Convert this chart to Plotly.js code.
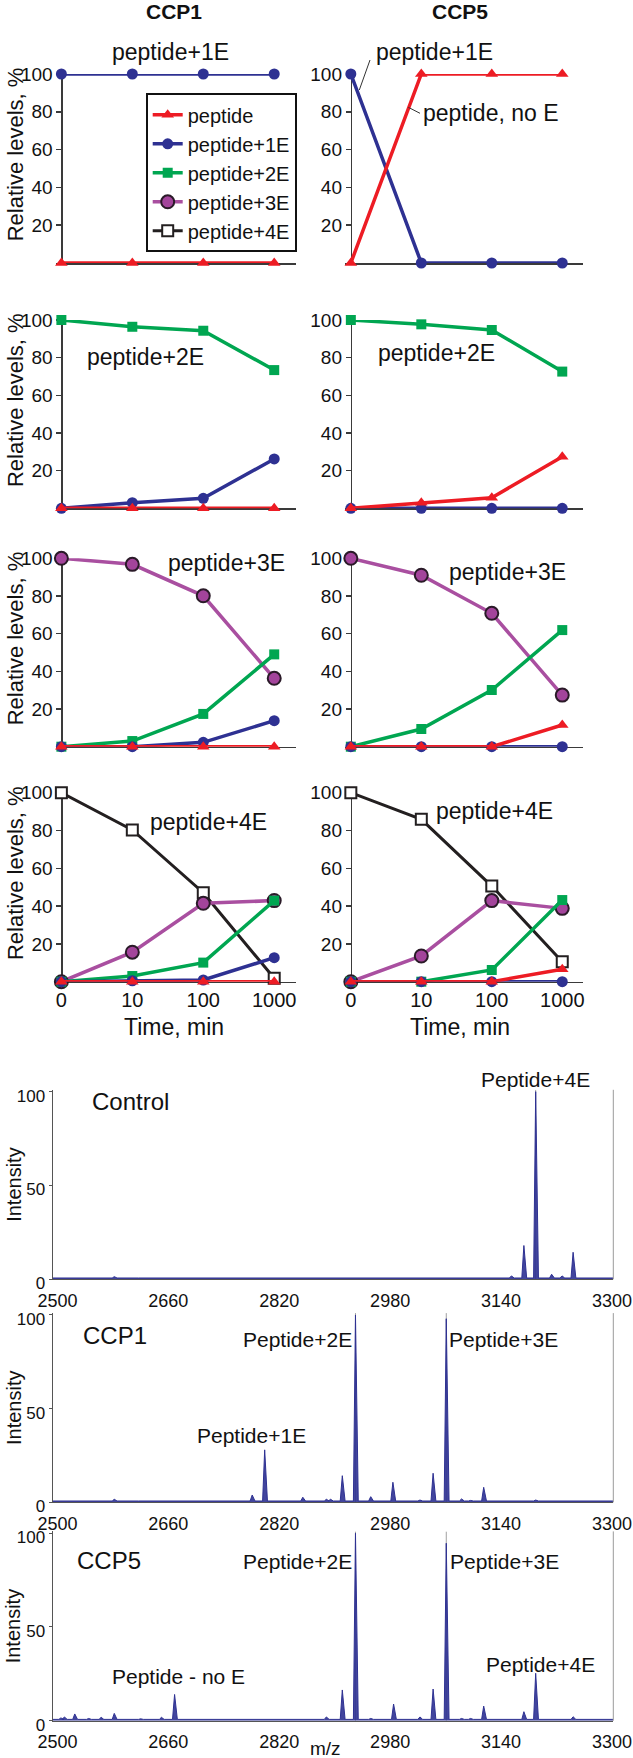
<!DOCTYPE html>
<html>
<head>
<meta charset="utf-8">
<script src="https://cdn.plot.ly/plotly-3.0.1.min.js"></script>
<style>html,body{margin:0;padding:0;background:#fff;}#chart{width:633px;height:1758px;}</style>
</head>
<body>
<div id="chart"></div>
<script>
// ---------------- DATA ----------------
const times = ['0', '10', '100', '1000'];
const seriesNames = ['peptide', 'peptide+1E', 'peptide+2E', 'peptide+3E', 'peptide+4E'];

// Row 1: substrate peptide+1E
const ccp1_s1_pep = [0, 0, 0, 0];
const ccp1_s1_e1  = [100, 100, 100, 100];
const ccp5_s1_pep = [0, 100, 100, 100];
const ccp5_s1_e1  = [100, 0, 0, 0];
// Row 2: substrate peptide+2E
const ccp1_s2_pep = [0, 0, 0, 0];
const ccp1_s2_e1  = [0, 3, 5.3, 26.2];
const ccp1_s2_e2  = [100, 96.4, 94.3, 73.4];
const ccp5_s2_pep = [0, 3, 5.6, 27.4];
const ccp5_s2_e1  = [0, 0, 0, 0];
const ccp5_s2_e2  = [100, 97.7, 94.7, 72.6];
// Row 3: substrate peptide+3E
const ccp1_s3_pep = [0, 0, 0, 0];
const ccp1_s3_e1  = [0, 0, 2.3, 13.8];
const ccp1_s3_e2  = [0, 3, 17.4, 49];
const ccp1_s3_e3  = [100, 96.8, 80.1, 36.3];
const ccp5_s3_pep = [0, 0, 0, 11.5];
const ccp5_s3_e1  = [0, 0, 0, 0];
const ccp5_s3_e2  = [0, 9.4, 30.1, 61.9];
const ccp5_s3_e3  = [100, 91, 70.8, 27.4];
// Row 4: substrate peptide+4E
const ccp1_s4_pep = [0, 0, 0, 0];
const ccp1_s4_e1  = [0, 0.5, 0.9, 12.7];
const ccp1_s4_e2  = [0, 3, 10.1, 42.9];
const ccp1_s4_e3  = [0, 15.6, 41.5, 42.9];
const ccp1_s4_e4  = [100, 80.3, 47.1, 1.8];
const ccp5_s4_pep = [0, 0, 0, 6.6];
const ccp5_s4_e1  = [0, 0, 0, 0];
const ccp5_s4_e2  = [0, 0, 6.2, 43.2];
const ccp5_s4_e3  = [0, 13.6, 42.9, 38.8];
const ccp5_s4_e4  = [100, 85.9, 50.6, 10.6];

// Mass spectra: peak m/z and relative intensity
const ctrlMz  = [2510, 2525, 2545, 2563, 2582, 2620, 2668, 2886, 3060, 3155, 3173, 3190, 3213, 3228, 3244, 3290];
const ctrlInt = [0.5, 0.9, 0.5, 0.6, 1.4, 0.4, 0.4, 0.5, 0.4, 1.8, 18, 100, 2.7, 1.8, 14.4, 0.6];
const ccp1Mz  = [2510, 2525, 2545, 2563, 2582, 2620, 2668, 2781, 2799, 2854, 2888, 2894, 2911, 2930, 2952, 2984, 3023, 3042, 3061, 3083, 3096, 3115, 3190, 3290];
const ccp1Int = [0.6, 1.0, 0.5, 1.0, 1.6, 0.5, 0.7, 3.9, 28, 2.7, 1.6, 1.6, 14.2, 100, 3, 10.7, 1.2, 15.5, 98, 1.8, 1.0, 8, 1.2, 0.5];
const ccp5Mz  = [2505, 2510, 2525, 2545, 2563, 2582, 2620, 2650, 2669, 2888, 2911, 2930, 2952, 2966, 2985, 3023, 3042, 3061, 3083, 3096, 3115, 3173, 3190, 3244];
const ccp5Int = [1.5, 2.0, 3.6, 1.2, 1.8, 3.9, 1.0, 1.8, 14, 2, 16.4, 100, 1.2, 0.8, 8.9, 2, 16.9, 94.7, 1.2, 1.2, 7.8, 4.8, 25.3, 2.1];
// labelled peaks (thin marker lines)
const ctrlLabelMz = [3190];
const ccp1LabelMz = [2930, 3061];
const ccp5LabelMz = [2930, 3061];
const mzTicks = [2500, 2660, 2820, 2980, 3140, 3300];

// ---------------- LAYOUT HELPERS ----------------
const W = 633, H = 1758;
const px = v => v / W;
const py = v => 1 - v / H;
const FONT = 'Liberation Sans, Arial, Helvetica, sans-serif';

const cols = [
  {x0: 55.7, x1: 295.5, zero: 61.4},
  {x0: 345.2, x1: 583.4, zero: 350.8}
];
const rows = [
  {top: 74, bot: 263},
  {top: 320, bot: 508.3},
  {top: 558.3, bot: 746.7},
  {top: 792.7, bot: 981.7}
];

const styles = {
  e4:  {name: seriesNames[4], line: '#231F20', symbol: 'square', fill: '#ffffff', mline: '#231F20', mlw: 2, size: 11, width: 3},
  e3:  {name: seriesNames[3], line: '#A94FA0', symbol: 'circle', fill: '#A3449B', mline: '#2a1a28', mlw: 2, size: 13, width: 3.5},
  e2:  {name: seriesNames[2], line: '#00A651', symbol: 'square', fill: '#00A651', mline: '#00A651', mlw: 0, size: 10, width: 3.5},
  e1:  {name: seriesNames[1], line: '#2E3192', symbol: 'circle', fill: '#2E3192', mline: '#2E3192', mlw: 0, size: 11, width: 3.5},
  pep: {name: seriesNames[0], line: '#ED1C24', symbol: 'triangle-up', fill: '#ED1C24', mline: '#ED1C24', mlw: 0, size: 11, width: 3.5}
};

const panels = [
  {r: 0, c: 0, s: {e1: ccp1_s1_e1, pep: ccp1_s1_pep}},
  {r: 0, c: 1, s: {e1: ccp5_s1_e1, pep: ccp5_s1_pep}},
  {r: 1, c: 0, s: {e2: ccp1_s2_e2, e1: ccp1_s2_e1, pep: ccp1_s2_pep}},
  {r: 1, c: 1, s: {e2: ccp5_s2_e2, e1: ccp5_s2_e1, pep: ccp5_s2_pep}},
  {r: 2, c: 0, s: {e3: ccp1_s3_e3, e2: ccp1_s3_e2, e1: ccp1_s3_e1, pep: ccp1_s3_pep}},
  {r: 2, c: 1, s: {e3: ccp5_s3_e3, e2: ccp5_s3_e2, e1: ccp5_s3_e1, pep: ccp5_s3_pep}},
  {r: 3, c: 0, s: {e4: ccp1_s4_e4, e3: ccp1_s4_e3, e2: ccp1_s4_e2, e1: ccp1_s4_e1, pep: ccp1_s4_pep}, legend: true},
  {r: 3, c: 1, s: {e4: ccp5_s4_e4, e3: ccp5_s4_e3, e2: ccp5_s4_e2, e1: ccp5_s4_e1, pep: ccp5_s4_pep}}
];

const traces = [];
const layout = {
  width: W, height: H,
  margin: {l: 0, r: 0, t: 0, b: 0},
  paper_bgcolor: '#ffffff', plot_bgcolor: 'rgba(0,0,0,0)',
  font: {family: FONT, color: '#111', size: 18},
  showlegend: true,
  legend: {
    x: px(145.7), y: py(93.3), xanchor: 'left', yanchor: 'top',
    bordercolor: '#111', borderwidth: 2, bgcolor: '#ffffff',
    font: {family: FONT, size: 20, color: '#111'},
    traceorder: 'reversed', itemwidth: 30, tracegroupgap: 0
  },
  annotations: [], shapes: []
};

const axisColor = '#3a3a3a';
panels.forEach((p, i) => {
  const n = i + 1;
  const xa = 'x' + (n === 1 ? '' : n), ya = 'y' + (n === 1 ? '' : n);
  const col = cols[p.c], row = rows[p.r];
  layout['xaxis' + (n === 1 ? '' : n)] = {
    domain: [px(col.x0), px(col.x1)], anchor: ya, type: 'category',
    range: [-0.08, 3.3], tickvals: times, ticktext: times,
    showticklabels: p.r === 3, ticks: '', showline: true, linecolor: axisColor, linewidth: 1.5,
    showgrid: false, zeroline: false, layer: 'below traces',
    tickfont: {family: FONT, size: 20, color: '#111'}, fixedrange: true
  };
  layout['yaxis' + (n === 1 ? '' : n)] = {
    domain: [py(row.bot), py(row.top)], anchor: 'free', position: px(col.zero),
    range: [0, 100], tickvals: [20, 40, 60, 80, 100],
    ticks: 'outside', ticklen: 5, tickwidth: 1.5, tickcolor: axisColor,
    showline: true, linecolor: axisColor, linewidth: 1.5,
    showgrid: false, zeroline: false, layer: 'below traces',
    tickfont: {family: FONT, size: 19, color: '#111'}, fixedrange: true
  };
  ['e4', 'e3', 'e2', 'e1', 'pep'].forEach(k => {
    if (!p.s[k]) return;
    const st = styles[k];
    traces.push({
      type: 'scatter', mode: 'lines+markers', x: times, y: p.s[k],
      xaxis: xa, yaxis: ya, name: st.name, cliponaxis: false,
      showlegend: !!p.legend,
      line: {color: st.line, width: st.width},
      marker: {symbol: st.symbol, size: st.size, color: st.fill, line: {color: st.mline, width: st.mlw}}
    });
  });
  if (p.c === 0) {
    layout.annotations.push({
      text: 'Relative levels, %', textangle: -90, showarrow: false,
      xref: 'paper', x: px(0.5), yref: ya + ' domain', y: 0.575,
      xanchor: 'left', yanchor: 'middle', font: {family: FONT, size: 22, color: '#111'}
    });
  }
  if (p.r === 3) {
    layout.annotations.push({
      text: 'Time, min', showarrow: false, xref: 'paper', yref: 'paper',
      x: px(p.c === 0 ? 173.6 : 460.2), y: py(1026.7), xanchor: 'center', yanchor: 'middle',
      font: {family: FONT, size: 23, color: '#111'}
    });
  }
});

// column titles
[['CCP1', 173.6], ['CCP5', 460.2]].forEach(([t, x]) => {
  layout.annotations.push({text: '<b>' + t + '</b>', showarrow: false, xref: 'paper', yref: 'paper',
    x: px(x), y: py(11), xanchor: 'center', yanchor: 'middle', font: {family: FONT, size: 21, color: '#111'}});
});

// in-panel labels
const panelLabels = [
  ['peptide+1E', 170.2, 51.7], ['peptide+1E', 434, 52], ['peptide, no E', 491, 113.3],
  ['peptide+2E', 145.3, 356.7], ['peptide+2E', 436, 352.7],
  ['peptide+3E', 226.5, 563.3], ['peptide+3E', 507, 571.7],
  ['peptide+4E', 208, 821.7], ['peptide+4E', 494, 810.7]
];
panelLabels.forEach(([t, x, y]) => {
  layout.annotations.push({text: t, showarrow: false, xref: 'paper', yref: 'paper',
    x: px(x), y: py(y), xanchor: 'center', yanchor: 'middle', font: {family: FONT, size: 23, color: '#111'}});
});
// leader lines for the CCP5 first panel labels
[[370, 60, 359.3, 90], [420, 113.3, 408.3, 107.3]].forEach(([a, b, c, d]) => {
  layout.shapes.push({type: 'line', xref: 'paper', yref: 'paper', x0: px(a), y0: py(b), x1: px(c), y1: py(d),
    line: {color: '#333', width: 1}});
});

// ---------------- MASS SPECTRA ----------------
const specs = [
  {mz: ctrlMz, it: ctrlInt, lab: ctrlLabelMz, top: 1089.8, bot: 1279.3,
   labels: [['Control', 130.2, 1101.7, 24], ['Peptide+4E', 535.5, 1079.3, 21]]},
  {mz: ccp1Mz, it: ccp1Int, lab: ccp1LabelMz, top: 1313.1, bot: 1502.3,
   labels: [['CCP1', 114.7, 1335, 24], ['Peptide+2E', 297.3, 1339.3, 21], ['Peptide+3E', 503.2, 1339.3, 21], ['Peptide+1E', 251.7, 1435, 21]]},
  {mz: ccp5Mz, it: ccp5Int, lab: ccp5LabelMz, top: 1531.4, bot: 1720.7,
   labels: [['CCP5', 109, 1560.7, 24], ['Peptide+2E', 297.3, 1561.7, 21], ['Peptide+3E', 504.4, 1561.7, 21], ['Peptide - no E', 178, 1676.7, 21], ['Peptide+4E', 540.6, 1664, 21]]}
];
const mzRange = [2493, 3302];
const base = 0.7, halfL = 3, halfR = 4;
specs.forEach((s, j) => {
  const n = 9 + j;
  const xa = 'x' + n, ya = 'y' + n;
  layout['xaxis' + n] = {
    domain: [px(52.6), px(613.3)], anchor: ya, range: mzRange, tickvals: mzTicks,
    ticks: '', showline: true, linecolor: '#555', linewidth: 1, showgrid: false, zeroline: false,
    ticklabelstandoff: 5,
    tickfont: {family: FONT, size: 18, color: '#111'}, fixedrange: true
  };
  layout['yaxis' + n] = {
    domain: [py(s.bot), py(s.top)], anchor: xa, range: [0, 101], tickvals: [0, 50, 100],
    ticks: 'outside', ticklen: 3, tickcolor: '#555', showline: true, linecolor: '#555', linewidth: 1,
    ticklabelshift: 4,
    showgrid: false, zeroline: false, tickfont: {family: FONT, size: 17, color: '#111'}, fixedrange: true
  };
  // right frame line
  layout.shapes.push({type: 'line', xref: xa + ' domain', yref: ya + ' domain', x0: 1, x1: 1, y0: 0, y1: 1,
    line: {color: '#9a9a9a', width: 1}});
  // labelled peak marker lines
  const lx = [], ly = [];
  s.lab.forEach(m => { lx.push(m, m, null); ly.push(0, 101, null); });
  traces.push({type: 'scatter', mode: 'lines', x: lx, y: ly, xaxis: xa, yaxis: ya, showlegend: false,
    line: {color: '#a0a0a0', width: 1}, hoverinfo: 'skip'});
  // spectrum profile built from the peak list
  const sx = [mzRange[0]], sy = [base];
  s.mz.forEach((m, k) => {
    sx.push(m - halfL, m, m + halfR);
    sy.push(base, Math.max(s.it[k], base), base);
  });
  sx.push(mzRange[1]); sy.push(base);
  traces.push({type: 'scatter', mode: 'lines', x: sx, y: sy, xaxis: xa, yaxis: ya, showlegend: false,
    fill: 'tozeroy', fillcolor: 'rgba(46,49,146,0.9)', line: {color: '#2E3192', width: 1}, hoverinfo: 'skip'});
  layout.annotations.push({text: 'Intensity', textangle: -90, showarrow: false, xref: 'paper', yref: ya + ' domain',
    x: px(13.3), y: 0.5, xanchor: 'center', yanchor: 'middle', font: {family: FONT, size: 20, color: '#111'}});
  s.labels.forEach(([t, x, y, f]) => {
    layout.annotations.push({text: t, showarrow: false, xref: 'paper', yref: 'paper',
      x: px(x), y: py(y), xanchor: 'center', yanchor: 'middle', font: {family: FONT, size: f, color: '#111'}});
  });
});
layout.annotations.push({text: 'm/z', showarrow: false, xref: 'paper', yref: 'paper',
  x: px(325), y: py(1748), xanchor: 'center', yanchor: 'middle', font: {family: FONT, size: 19, color: '#111'}});

Plotly.newPlot('chart', traces, layout, {displayModeBar: false, staticPlot: true});
</script>
</body>
</html>
